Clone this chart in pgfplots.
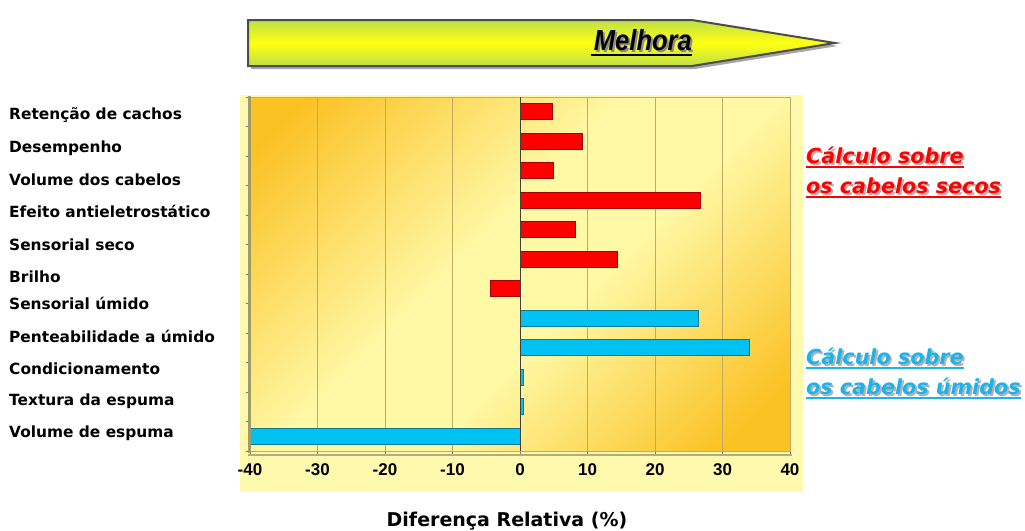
\documentclass[border=0pt]{standalone}
\usepackage{fontspec}
\setmainfont{DejaVu Sans}
\newfontfamily\arialf{Liberation Sans}
\usepackage{pgfplots}
\pgfplotsset{compat=1.18}
\definecolor{bgpale}{HTML}{FFF9AE}
\definecolor{gorange}{HTML}{FBC224}
\definecolor{gmid}{HTML}{FFF8A4}
\definecolor{gridc}{HTML}{C2AA62}
\definecolor{barred}{HTML}{FF0000}
\definecolor{barrededge}{HTML}{A00000}
\definecolor{barblue}{HTML}{00C2F2}
\definecolor{barblueedge}{HTML}{0B7896}
\definecolor{arrgreen}{HTML}{BDE04A}
\definecolor{arryellow}{HTML}{FFFF10}
\definecolor{txtblue}{HTML}{1BB4EA}
\pgfdeclarehorizontalshading{bgsh}{100bp}{color(0bp)=(gorange); color(19bp)=(gorange); color(44bp)=(gmid); color(57bp)=(gmid); color(80bp)=(gorange); color(100bp)=(gorange)}
\begin{document}
\begin{tikzpicture}
\path[use as bounding box] (0,0) rectangle (1025pt,-530pt);
% chart area background
\fill[bgpale] (240pt,-95pt) rectangle (803pt,-492pt);
% arrow
\fill[black!35] (251pt,-23pt) -- (695pt,-23pt) -- (838pt,-46pt) -- (695pt,-69pt) -- (251pt,-69pt) -- cycle;
\shade[top color=arrgreen, bottom color=arrgreen, middle color=arryellow]
  (248pt,-20pt) -- (692pt,-20pt) -- (835pt,-43pt) -- (692pt,-66pt) -- (248pt,-66pt) -- cycle;
\draw[black!70, line width=2pt, line join=miter]
  (248pt,-20pt) -- (692pt,-20pt) -- (835pt,-43pt) -- (692pt,-66pt) -- (248pt,-66pt) -- cycle;
\node[anchor=base east, inner sep=0pt, text=black!45] at (694pt,-52pt) {\arialf\bfseries\itshape\fontsize{29}{30}\selectfont\scalebox{0.88}[1]{Melhora}};
\node[anchor=base east, inner sep=0pt] (mh) at (692pt,-50.5pt) {\arialf\bfseries\itshape\fontsize{29}{30}\selectfont\scalebox{0.88}[1]{Melhora}};
\draw[black, line width=1.6pt] (591pt,-55pt) -- (692pt,-55pt);

\begin{axis}[
  at={(520pt,-274pt)}, anchor=center,
  scale only axis, width=540pt, height=354pt,
  xmin=-40, xmax=40, ymin=0.5, ymax=12.5, y dir=reverse,
  axis background/.style={shading=bgsh, shading angle=-45},
  xtick={-40,-30,...,40},
  xticklabels={-40,-30,-20,-10,0,10,20,30,40},
  xticklabel style={font=\arialf\bfseries\fontsize{17}{19}\selectfont, yshift=-5pt},
  xmajorgrids, major grid style={draw=gridc, line width=0.9pt},
  tick align=outside, major tick length=4pt,
  xtick pos=bottom, ytick pos=left,
  tick style={draw=black!55, line width=0.7pt},
  ytick={1.11,2.24,3.31,4.39,5.52,6.59,7.49,8.63,9.70,10.83,11.90},
  yticklabels={Retenção de cachos, Desempenho, Volume dos cabelos, Efeito antieletrostático, Sensorial seco, Brilho, Sensorial úmido, Penteabilidade a úmido, Condicionamento, Textura da espuma, Volume de espuma},
  yticklabel style={anchor=west, inner sep=0pt, xshift=-237pt, font=\bfseries\fontsize{15.4}{17}\selectfont},
  ytick style={draw=none},
  extra y ticks={0.5,1.5,...,12.5},
  extra y tick labels={},
  extra y tick style={ytick style={draw=black!55, line width=0.7pt}, grid=none},
  axis line style={draw=gridc, line width=0.9pt},
  clip=false,
]
\addplot[xbar, bar width=16pt, bar shift=0pt, fill=barred, draw=barrededge, line width=1pt]
  coordinates {(4.8,1) (9.2,2) (5.0,3) (26.8,4) (8.2,5) (14.5,6) (-4.3,7)};
\addplot[xbar, bar width=16pt, bar shift=0pt, fill=barblue, draw=barblueedge, line width=1pt]
  coordinates {(26.5,8) (34.0,9) (0.5,10) (0.5,11) (-40,12)};
\draw[black!75, line width=1pt] (axis cs:0,0.5) -- (axis cs:0,12.5);
\end{axis}
% left wall and floor
\draw[black!45!olive!60, line width=3pt] (249pt,-96pt) -- (249pt,-453pt);
\draw[black!40!olive!50, line width=1.2pt] (248pt,-455pt) -- (792pt,-455pt);

\node[font=\bfseries\fontsize{19}{21}\selectfont, inner sep=0pt] at (507pt,-521pt) {Diferença Relativa (\%)};

% right annotations
\begin{scope}[every node/.style={anchor=base west, inner sep=0pt, font=\bfseries\itshape\fontsize{20.7}{22}\selectfont}]
\node[text=black!30] at (808pt,-165pt) {Cálculo sobre};
\node[text=barred] (a1) at (806pt,-163pt) {Cálculo sobre};
\node[text=black!30] at (808pt,-195pt) {os cabelos secos};
\node[text=barred] (a2) at (806pt,-193pt) {os cabelos secos};
\node[text=black!30] at (808pt,-366pt) {Cálculo sobre};
\node[text=txtblue] (b1) at (806pt,-364pt) {Cálculo sobre};
\node[text=black!30] at (808pt,-396pt) {os cabelos úmidos};
\node[text=txtblue] (b2) at (806pt,-394pt) {os cabelos úmidos};
\end{scope}
\draw[barred, line width=1.6pt] ([yshift=-4pt]a1.base west) -- ([yshift=-4pt]a1.base east);
\draw[barred, line width=1.6pt] ([yshift=-4pt]a2.base west) -- ([yshift=-4pt]a2.base east);
\draw[txtblue, line width=1.6pt] ([yshift=-4pt]b1.base west) -- ([yshift=-4pt]b1.base east);
\draw[txtblue, line width=1.6pt] ([yshift=-4pt]b2.base west) -- ([yshift=-4pt]b2.base east);
\end{tikzpicture}
\end{document}
